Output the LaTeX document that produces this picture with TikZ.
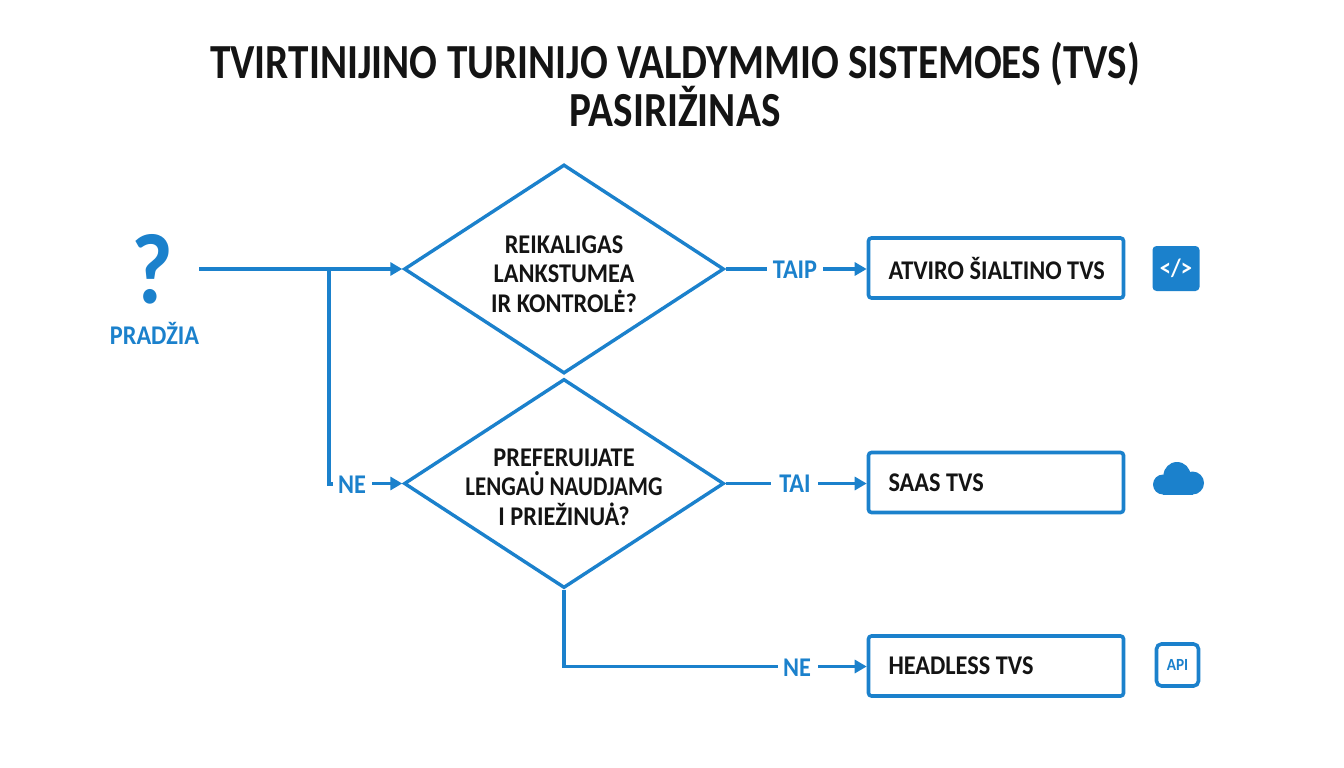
\documentclass[tikz,border=0pt]{standalone}
\usepackage{fontspec}
\usetikzlibrary{shapes.geometric,arrows.meta}
\setmainfont{Carlito}[FakeStretch=0.9]
\newfontfamily\titlefont{Carlito}[FakeStretch=0.84]
\newfontfamily\tightfont{Carlito}[FakeStretch=0.845]
\newcommand{\dotU}{\ooalign{U\cr\hfil\raisebox{0.19em}{˙}\hfil\cr}}
\definecolor{fcblue}{HTML}{1B81CC}
\definecolor{fcink}{HTML}{141414}
\tikzset{
  x=1pt,y=-1pt,
  flow/.style={draw=fcblue,line width=3.4pt},
  arr/.style={flow,-{Triangle[length=12pt,width=13pt]}},
  question/.style={diamond,draw=fcblue,line width=3.4pt,fill=white,minimum width=320pt,minimum height=209pt,inner sep=0pt,aspect=1.53},
  qtext/.style={align=center,inner sep=0pt,font=\bfseries\fontsize{27}{29.5}\selectfont,text=fcink},
  result/.style={draw=fcblue,line width=3.6pt,rounded corners=3pt,minimum width=255pt,minimum height=60pt,fill=white,font=\bfseries\fontsize{27}{27}\selectfont,text=fcink,inner sep=0pt},
  lab/.style={font=\bfseries\fontsize{27}{27}\selectfont,text=fcblue,inner sep=0pt},
  titletext/.style={font=\titlefont\bfseries\fontsize{49}{48}\selectfont,text=fcink,align=center,inner sep=0pt}
}
\begin{document}
\begin{tikzpicture}
\useasboundingbox (0,0) rectangle (1344,768);
\fill[white] (0,0) rectangle (1344,768);
\node[titletext] (title) at (675,84) {TVIRTINIJINO TURINIJO VALDYMMIO SISTEMOES (TVS)\\PASIRIŽINAS};
\node[font=\bfseries\fontsize{100}{100}\selectfont,text=fcblue,inner sep=0pt] (start) at (152,269) {?};
\node[lab] (startlab) at (154.5,333) {PRADŽIA};
\node[question] (q1) at (564,269) {};
\node[question] (q2) at (564,483.5) {};
\node[qtext] (q1t) at (564,274) {REIKALIGAS\\LANKSTUMEA\\IR KONTROLĖ?};
\node[qtext] (q2t) at (564,487) {PREFERUIJATE\\{\tightfont\bfseries LENGA\dotU{} NAUDJAMG}\\I PRIEŽINUȦ?};
\node[result] (r1) at (996,268) {\makebox[215pt][l]{ATVIRO ŠIALTINO TVS}};
\node[result] (r2) at (996,482.5) {\makebox[215pt][l]{SAAS TVS}};
\node[result] (r3) at (996,666) {\makebox[215pt][l]{HEADLESS TVS}};
\coordinate (from) at (199,269);
\coordinate (branch) at (329,269);
\coordinate (ne1end) at (333,484);
\coordinate (ne1arr) at (372,483.5);
\coordinate (ne2arr) at (818,666.5);
\coordinate (taiparr) at (823,269);
\coordinate (taiarr) at (818,483.5);
\node[lab] (ne1) at (352,484.5) {NE};
\node[lab] (taip) at (795,269.5) {TAIP};
\node[lab] (tai) at (795,484) {TAI};
\node[lab] (ne2) at (797,668) {NE};
\draw[arr] (from) -- (q1.west);
\draw[flow] (branch) |- (ne1end);
\draw[arr] (ne1arr) -- (q2.west);
\draw[flow] (q1.east) -- ([xshift=-6pt]taip.west |- q1.east);
\draw[arr] (taiparr) -- (r1.west |- taiparr);
\draw[flow] (q2.east) -- ([xshift=-8pt]tai.west |- q2.east);
\draw[arr] (taiarr) -- (r2.west |- taiarr);
\draw[flow] (q2.south) |- ([xshift=-5pt]ne2.west |- ne2arr);
\draw[arr] (ne2arr) -- (r3.west |- ne2arr);
\node[fill=fcblue,rounded corners=4pt,minimum width=47pt,minimum height=45pt,inner sep=0pt,text=white,font=\bfseries\fontsize{25}{25}\selectfont] (icode) at (1176,268.5) {</>};
\fill[fcblue] (1163,484.5) circle[radius=10] (1177,475.5) circle[radius=13.5] (1192.5,483) circle[radius=11.5];
\fill[fcblue] (1163,480) rectangle (1192.5,494.5);
\node[draw=fcblue,line width=3.6pt,rounded corners=5pt,minimum width=42pt,minimum height=42pt,inner sep=0pt,text=fcblue,font=\bfseries\fontsize{17}{17}\selectfont] (iapi) at (1177.5,665) {API};
\end{tikzpicture}
\end{document}
